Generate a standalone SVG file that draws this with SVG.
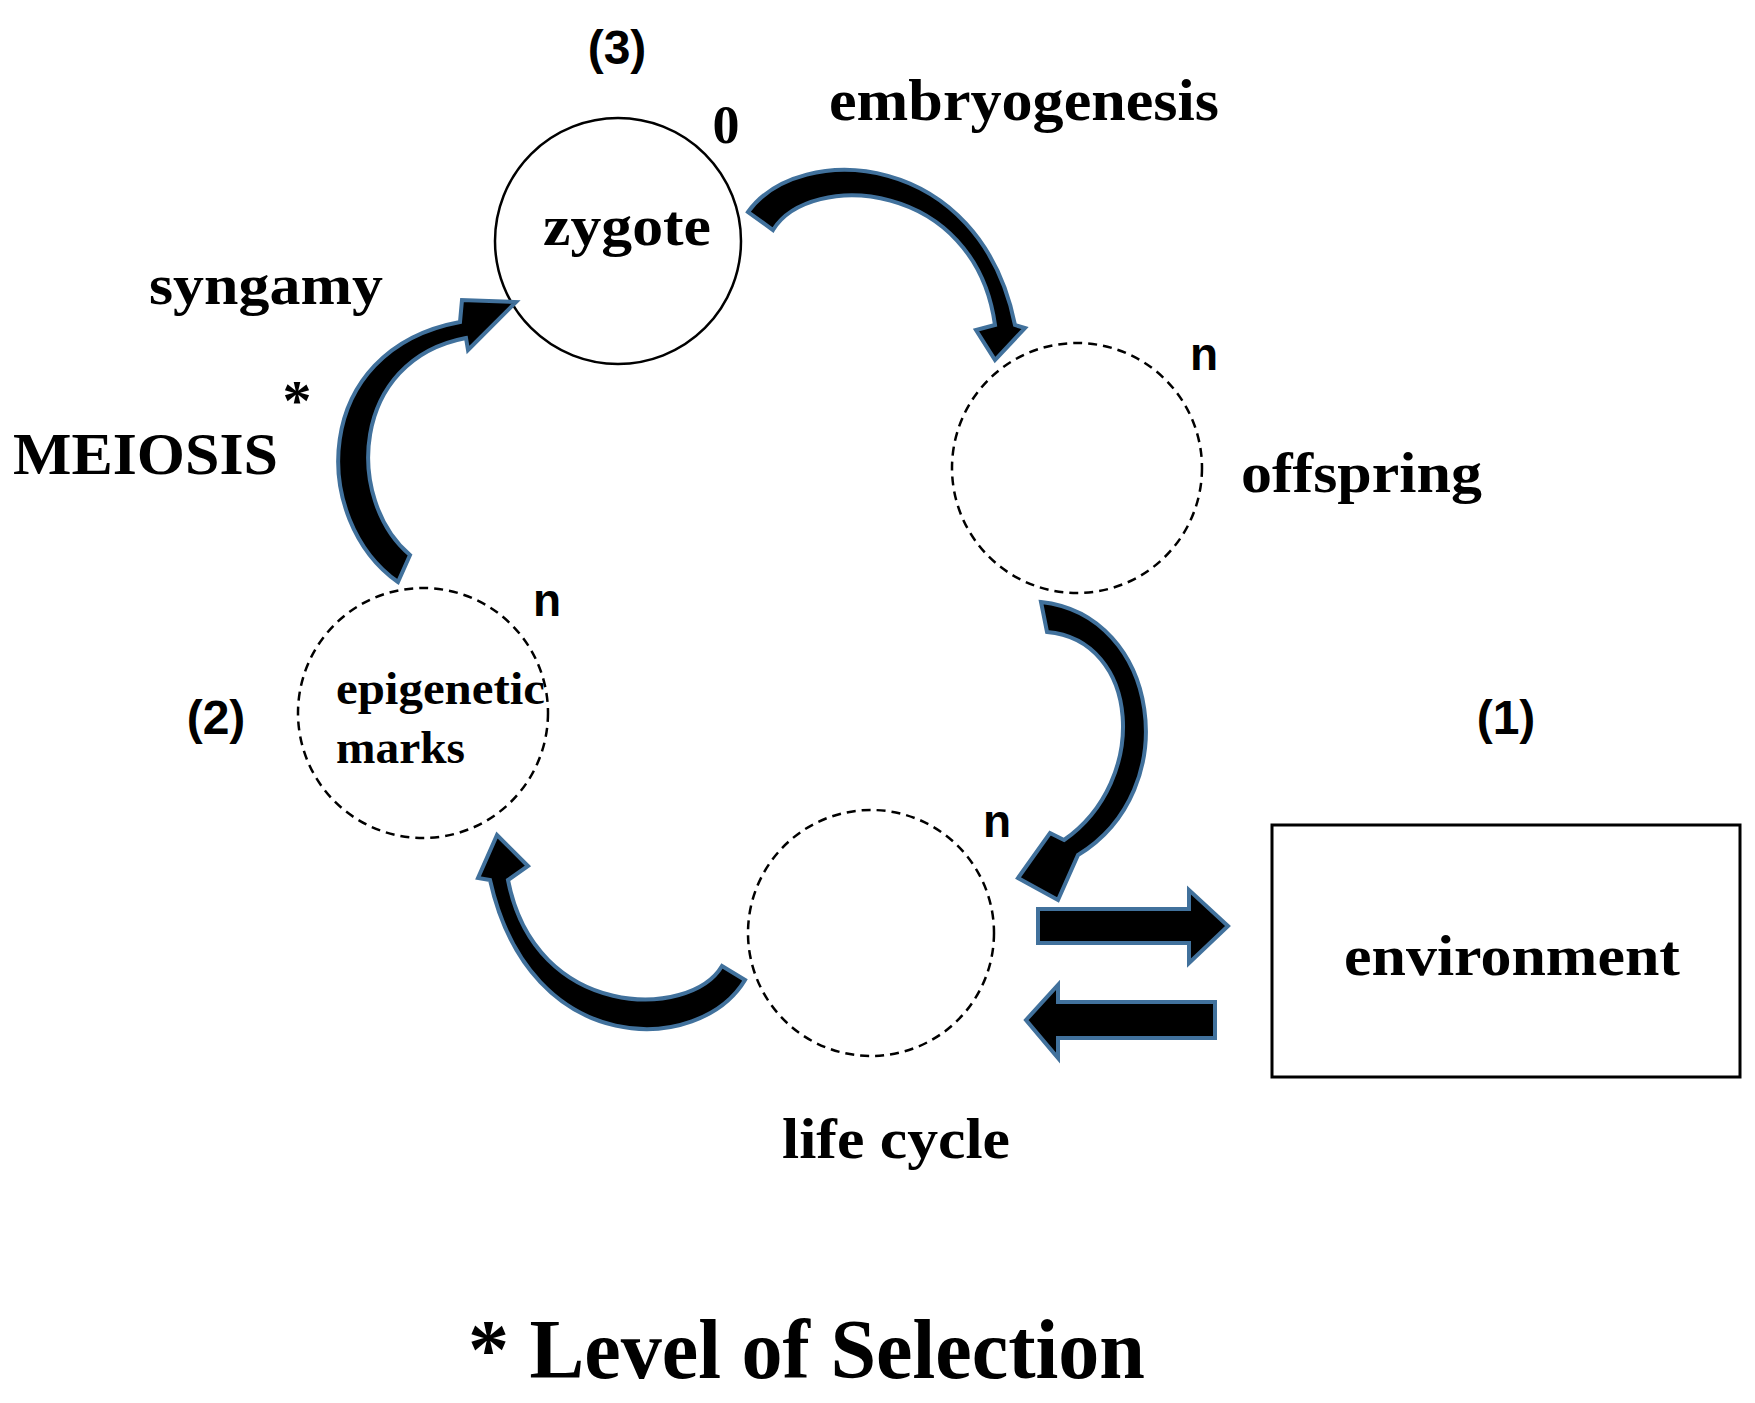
<svg xmlns="http://www.w3.org/2000/svg" width="1755" height="1403" viewBox="0 0 1755 1403">
<style>
.t{font-family:"Liberation Serif",serif;font-weight:bold;fill:#000}
.s{font-family:"Liberation Sans",Arial,sans-serif;font-weight:bold;fill:#000}
.c{fill:none;stroke:#000;stroke-width:2.5}
.d{fill:none;stroke:#000;stroke-width:2.5;stroke-dasharray:9 6}
.a{fill:#000;stroke:#41719c;stroke-width:4;stroke-linejoin:miter}
</style>
<rect width="1755" height="1403" fill="#fff"/>
<g id="zygote"><circle class="c" cx="618" cy="241" r="123"/><text class="t" x="543" y="245" font-size="58" textLength="168" lengthAdjust="spacingAndGlyphs">zygote</text></g>
<g id="offspring"><circle class="d" cx="1077" cy="468" r="125"/><text class="t" x="1241" y="492" font-size="58" textLength="241" lengthAdjust="spacingAndGlyphs">offspring</text></g>
<g id="epigenetic"><circle class="d" cx="423" cy="713" r="125"/><text class="t" x="336" y="704" font-size="46" textLength="209" lengthAdjust="spacingAndGlyphs">epigenetic</text><text class="t" x="336" y="763" font-size="46" textLength="129" lengthAdjust="spacingAndGlyphs">marks</text></g>
<g id="lifecycle"><circle class="d" cx="871" cy="933" r="123"/><text class="t" x="782" y="1158" font-size="58" textLength="228" lengthAdjust="spacingAndGlyphs">life cycle</text></g>
<g id="environment"><rect x="1272" y="825" width="468" height="252" fill="none" stroke="#000" stroke-width="3"/><text class="t" x="1344" y="975" font-size="58" textLength="336" lengthAdjust="spacingAndGlyphs">environment</text></g>
<g id="labels">
<text class="s" x="617" y="64" font-size="48" text-anchor="middle">(3)</text>
<text class="t" x="726" y="143" font-size="54" text-anchor="middle">0</text>
<text class="t" x="829" y="120" font-size="60" textLength="390" lengthAdjust="spacingAndGlyphs">embryogenesis</text>
<text class="t" x="149" y="304" font-size="58" textLength="234" lengthAdjust="spacingAndGlyphs">syngamy</text>
<text class="t" x="297" y="420" font-size="58" text-anchor="middle">*</text>
<text class="t" x="13" y="474" font-size="60" textLength="265" lengthAdjust="spacingAndGlyphs">MEIOSIS</text>
<text class="s" x="1204" y="370" font-size="46" text-anchor="middle">n</text>
<text class="s" x="547" y="616" font-size="46" text-anchor="middle">n</text>
<text class="s" x="997" y="837" font-size="46" text-anchor="middle">n</text>
<text class="s" x="216" y="734" font-size="48" text-anchor="middle">(2)</text>
<text class="s" x="1506" y="734" font-size="48" text-anchor="middle">(1)</text>
<text class="t" x="468" y="1378" font-size="84" textLength="677" lengthAdjust="spacingAndGlyphs">* Level of Selection</text>
</g>
<g id="connectors">
<path class="a" d="M748,212 C800,140 980,150 1015,325 L1025,328 L995,360 L976,330 L995,325 C975,180 810,170 773,230 Z"/>
<path class="a" d="M1041,602 C1160,615 1185,790 1078,855 L1058,900 L1018,878 L1050,833 L1064,840 C1150,780 1140,640 1047,632 Z"/>
<path class="a" d="M745,980 C700,1055 530,1060 490,880 L478,878 L497,835 L528,866 L508,880 C535,1020 690,1020 722,966 Z"/>
<path class="a" d="M398,582 C310,520 310,350 460,322 L462,300 L516,302 L468,350 L466,338 C350,360 345,500 410,555 Z"/>
<path class="a" d="M1038,909 L1189,909 L1189,890 L1228,926 L1189,963 L1189,943 L1038,943 Z"/>
<path class="a" d="M1215,1002 L1058,1002 L1058,985 L1026,1020 L1058,1058 L1058,1038 L1215,1038 Z"/>
</g>
</svg>
